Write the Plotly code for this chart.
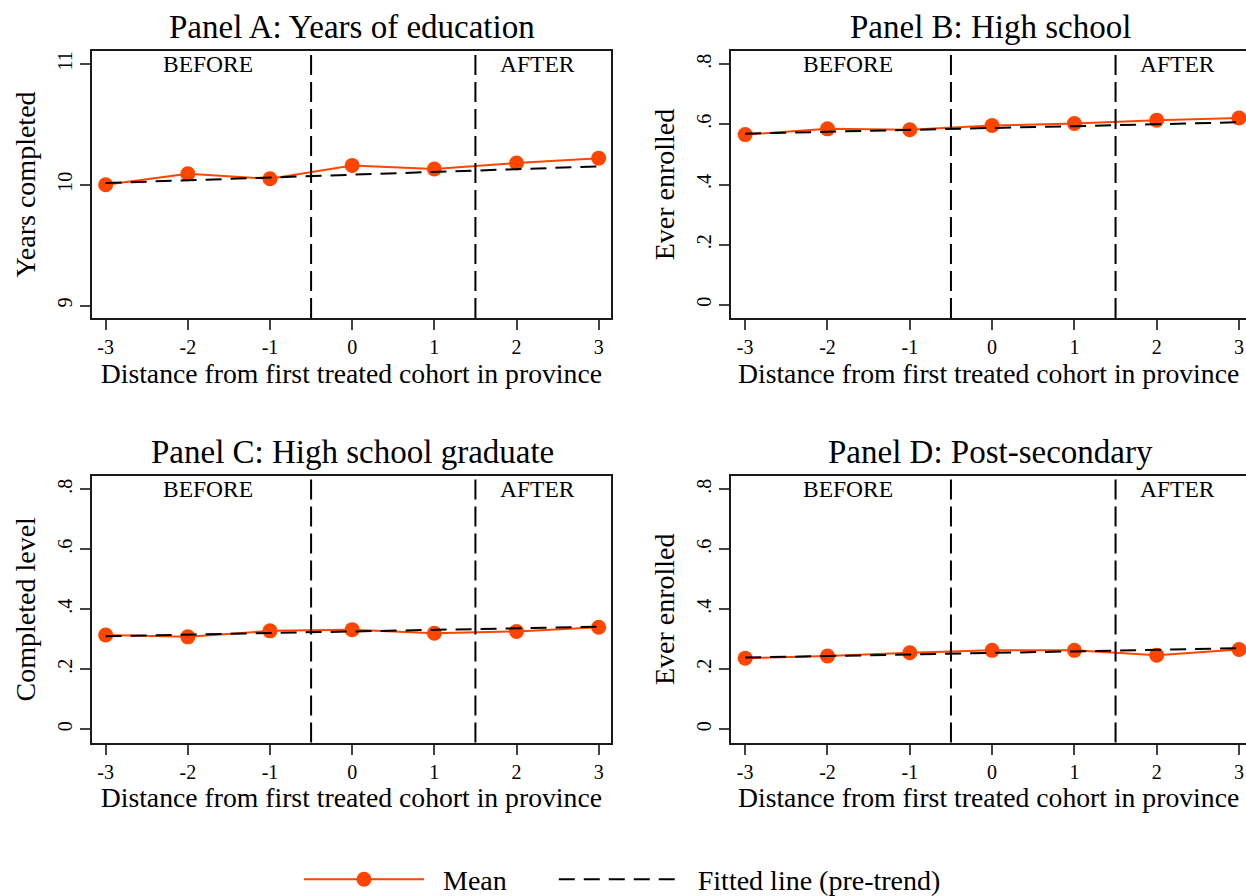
import plotly.graph_objects as go

x_vals = [-3, -2, -1, 0, 1, 2, 3]
x_labels = ["-3", "-2", "-1", "0", "1", "2", "3"]

mean_a = [10.00, 10.09, 10.05, 10.16, 10.13, 10.18, 10.22]
fit_a = [10.014, 10.037, 10.060, 10.083, 10.106, 10.129, 10.152]
mean_b = [0.566, 0.585, 0.582, 0.596, 0.603, 0.614, 0.621]
fit_b = [0.569, 0.576, 0.582, 0.588, 0.594, 0.601, 0.607]
mean_c = [0.314, 0.308, 0.328, 0.332, 0.320, 0.326, 0.340]
fit_c = [0.310, 0.315, 0.321, 0.326, 0.331, 0.337, 0.342]
mean_d = [0.237, 0.244, 0.255, 0.263, 0.263, 0.247, 0.266]
fit_d = [0.239, 0.244, 0.249, 0.255, 0.260, 0.265, 0.270]

titles = ["Panel A: Years of education", "Panel B: High school",
          "Panel C: High school graduate", "Panel D: Post-secondary"]
ytitles = ["Years completed", "Ever enrolled", "Completed level", "Ever enrolled"]
xtitle = "Distance from first treated cohort in province"
yticks_a = [9, 10, 11]
yticks_a_text = ["9", "10", "11"]
yticks_share = [0, 0.2, 0.4, 0.6, 0.8]
yticks_share_text = ["0", ".2", ".4", ".6", ".8"]
cutoffs = [-0.5, 1.5]
NB = "\u00a0"
legend_names = [NB * 2 + "Mean" + NB * 6, NB * 2 + "Fitted line (pre-trend)"]

# page body margin is removed (see post_script), so the figure starts at the window corner
W, H = 1246, 910
FONT = "Liberation Serif"
ORANGE = "#FF4500"


def px_x(p):
    return p / W


def px_y(p):
    return 1 - p / H


# pixel geometry of panel boxes (window pixels)
left_dom = [px_x(91.7), px_x(611)]
right_dom = [px_x(731.2), 1.0]
top_dom = [px_y(318), px_y(51)]
bot_dom = [px_y(742.5), px_y(476)]

panels = [
    dict(mean=mean_a, fit=fit_a, xd=left_dom, yd=top_dom, xr=[-3.17, 3.15], yr=[8.897, 11.107],
         yt=yticks_a, ytt=yticks_a_text, ymir=True),
    dict(mean=mean_b, fit=fit_b, xd=right_dom, yd=top_dom, xr=[-3.17, 3.085], yr=[-0.044, 0.844],
         yt=yticks_share, ytt=yticks_share_text, ymir=False),
    dict(mean=mean_c, fit=fit_c, xd=left_dom, yd=bot_dom, xr=[-3.17, 3.15], yr=[-0.044, 0.844],
         yt=yticks_share, ytt=yticks_share_text, ymir=True),
    dict(mean=mean_d, fit=fit_d, xd=right_dom, yd=bot_dom, xr=[-3.17, 3.085], yr=[-0.044, 0.844],
         yt=yticks_share, ytt=yticks_share_text, ymir=False),
]

fig = go.Figure()
layout = dict(width=W, height=H, margin=dict(l=0, r=0, t=0, b=0, autoexpand=False),
              plot_bgcolor="white", paper_bgcolor="white",
              font=dict(family=FONT, color="black"))
annotations = []
shapes = []

for i, p in enumerate(panels):
    n = "" if i == 0 else str(i + 1)
    xa, ya = "x" + n, "y" + n
    fig.add_trace(go.Scatter(x=x_vals, y=p["mean"], xaxis=xa, yaxis=ya, mode="lines+markers",
                             line=dict(color=ORANGE, width=2),
                             marker=dict(color=ORANGE, size=15),
                             name=legend_names[0], showlegend=(i == 0), legendgroup="m",
                             cliponaxis=False))
    fig.add_trace(go.Scatter(x=x_vals, y=p["fit"], xaxis=xa, yaxis=ya, mode="lines",
                             line=dict(color="black", width=2, dash="16px,9px"),
                             name=legend_names[1], showlegend=(i == 0), legendgroup="f"))
    axis_common = dict(showgrid=False, zeroline=False, showline=True, linewidth=2, linecolor="#1a1a1a",
                       ticks="outside", ticklen=10, tickwidth=1.5, tickcolor="#444",
                       tickfont=dict(size=20, family=FONT), automargin=False,
                       ticklabeloverflow="allow")
    layout["xaxis" + n] = dict(domain=p["xd"], range=p["xr"], anchor=ya, tickvals=x_vals,
                               ticktext=x_labels, mirror=True,
                               title=dict(text=xtitle, font=dict(size=27.7, family=FONT), standoff=3),
                               **axis_common)
    layout["yaxis" + n] = dict(domain=p["yd"], range=p["yr"], anchor=xa, tickvals=p["yt"],
                               ticktext=p["ytt"], tickangle=-90, mirror=p["ymir"],
                               title=dict(text=ytitles[i], font=dict(size=28, family=FONT), standoff=10),
                               **axis_common)
    for c in cutoffs:
        shapes.append(dict(type="line", xref=xa, yref=ya + " domain", x0=c, x1=c, y0=0, y1=1,
                           line=dict(color="black", width=2, dash="20px,7px")))
    top_val = p["yt"][-1]
    annotations.append(dict(x=-1.75, y=top_val, xref=xa, yref=ya, text="BEFORE", showarrow=False,
                            font=dict(size=23.5, family=FONT)))
    annotations.append(dict(x=2.25, y=top_val, xref=xa, yref=ya, text="AFTER", showarrow=False,
                            font=dict(size=23.5, family=FONT)))
    cx = px_x(352 if p["xd"] is left_dom else 990)
    cy = px_y(27) if p["yd"] is top_dom else px_y(452)
    annotations.append(dict(x=cx, y=cy, xref="paper", yref="paper", text=titles[i], showarrow=False,
                            xanchor="center", yanchor="middle", font=dict(size=33, family=FONT)))

layout["annotations"] = annotations
layout["shapes"] = shapes
layout["legend"] = dict(orientation="h", x=px_x(299), xanchor="left", y=px_y(879.5), yanchor="middle",
                        font=dict(size=28, family=FONT), itemwidth=120, bgcolor="rgba(0,0,0,0)")
fig.update_layout(**layout)
fig.write_html("out.html", config={"displayModeBar": False},
               post_script="document.body.style.margin='0';document.body.style.overflow='hidden';")
